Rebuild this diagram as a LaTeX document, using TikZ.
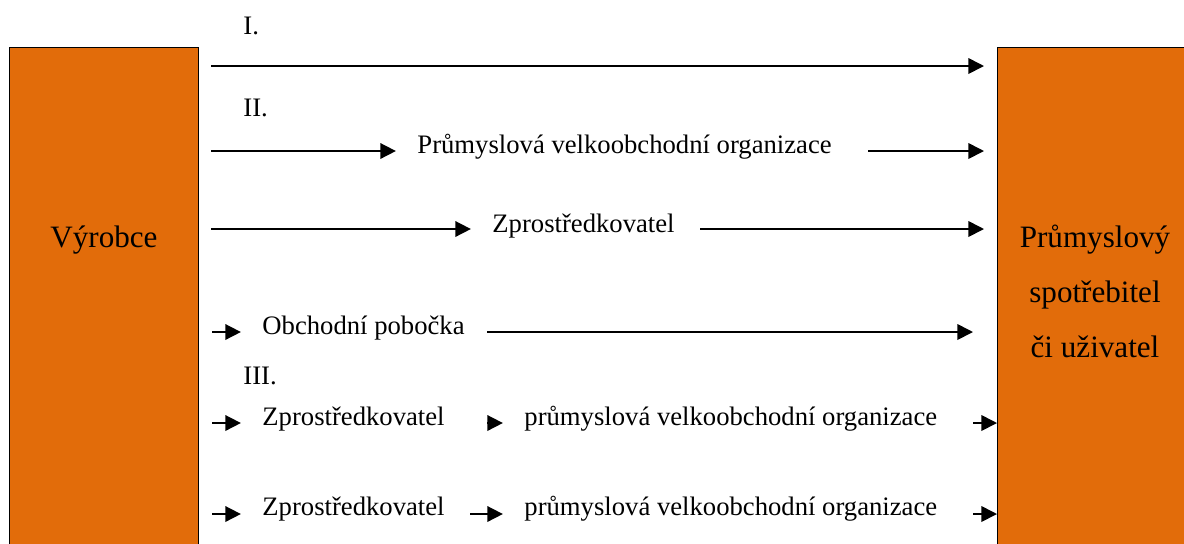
\documentclass[tikz,border=0pt]{standalone}
\usepackage{fontspec}
\setmainfont{Liberation Serif}
\usepackage{xcolor}
\usetikzlibrary{arrows.meta,calc,positioning}
\definecolor{vyrorange}{HTML}{E26C0A}
\tikzset{%
	block/.style    = {draw, rectangle, fill=vyrorange, line width=0.6pt, anchor=north west, inner sep=0pt}, % box
	boxtext/.style  = {anchor=base, inner sep=0pt, font=\fontsize{14}{16}\selectfont}, % box text
	lbl/.style      = {anchor=base west, inner sep=0pt, font=\fontsize{12}{14}\selectfont}, % row text
	flow/.style     = {-{Triangle[length=7pt,width=7pt]}, line width=0.75pt}, % arrow
	totext/.style   = {shorten >=9.5pt}, % arrow ending before a text
	waypoint/.style = {coordinate},
}

\begin{document}
\begin{tikzpicture}[x=0.45pt, y=-0.45pt]
		\useasboundingbox (0,0) rectangle (1184,543);
		% boxes
		\node[block, minimum width=85pt, minimum height=235pt] (vyr) at (9,47) {};
		\node[block, minimum width=92pt, minimum height=235pt] (spo) at (997,47) {};
		\node[boxtext] (v) at (104,247) {Výrobce};
		\node[boxtext] (p1) at (1095,247) {Průmyslový};
		\node[boxtext] (p2) at (1095,302) {spotřebitel};
		\node[boxtext] (p3) at (1095,357) {či uživatel};
		% texts
		\node[lbl] (c1) at (243,34) {I.};
		\node[lbl] (c2) at (243,116) {II.};
		\node[lbl] (c3) at (243,384) {III.};
		\node[lbl] (pvo) at (417,153) {Průmyslová velkoobchodní organizace};
		\node[lbl] (zp) at (492,232) {Zprostředkovatel};
		\node[lbl] (ob) at (262,334) {Obchodní pobočka};
		\node[lbl] (zpa) at (262,425) {Zprostředkovatel};
		\node[lbl] (pvoa) at (524,425) {průmyslová velkoobchodní organizace};
		\node[lbl] (zpb) at (262,515) {Zprostředkovatel};
		\node[lbl] (pvob) at (524,515) {průmyslová velkoobchodní organizace};
		% waypoints
		\node[waypoint] (i1) at (211,66) {};
		\node[waypoint] (i2) at (984,66) {};
		\node[waypoint] (ii1) at (211,151) {};
		\node[waypoint] (ii2) at (868,151) {};
		\node[waypoint] (ii3) at (984,151) {};
		\node[waypoint] (z1) at (211,229) {};
		\node[waypoint] (z2) at (700,229) {};
		\node[waypoint] (z3) at (984,229) {};
		\node[waypoint] (o1) at (212,332) {};
		\node[waypoint] (o2) at (487,332) {};
		\node[waypoint] (o3) at (973,332) {};
		\node[waypoint] (a1) at (212,423) {};
		\node[waypoint] (a2) at (487,423) {};
		\node[waypoint] (a3) at (973,423) {};
		\node[waypoint] (b1) at (212,514) {};
		\node[waypoint] (b2) at (470,514) {};
		\node[waypoint] (b3) at (973,514) {};
		% arrows
		\draw[flow] (i1) -- (i2);
		\draw[flow, totext] (ii1) -- (ii1 -| pvo.west);
		\draw[flow] (ii2) -- (ii3);
		\draw[flow, totext] (z1) -- (z1 -| zp.west);
		\draw[flow] (z2) -- (z3);
		\draw[flow, totext] (o1) -- (o1 -| ob.west);
		\draw[flow] (o2) -- (o3);
		\draw[flow, totext] (a1) -- (a1 -| zpa.west);
		\draw[flow, totext] (a2) -- (a2 -| pvoa.west);
		\draw[flow] (a3) -- (a3 -| spo.west);
		\draw[flow, totext] (b1) -- (b1 -| zpb.west);
		\draw[flow, totext] (b2) -- (b2 -| pvob.west);
		\draw[flow] (b3) -- (b3 -| spo.west);
\end{tikzpicture}
\end{document}
